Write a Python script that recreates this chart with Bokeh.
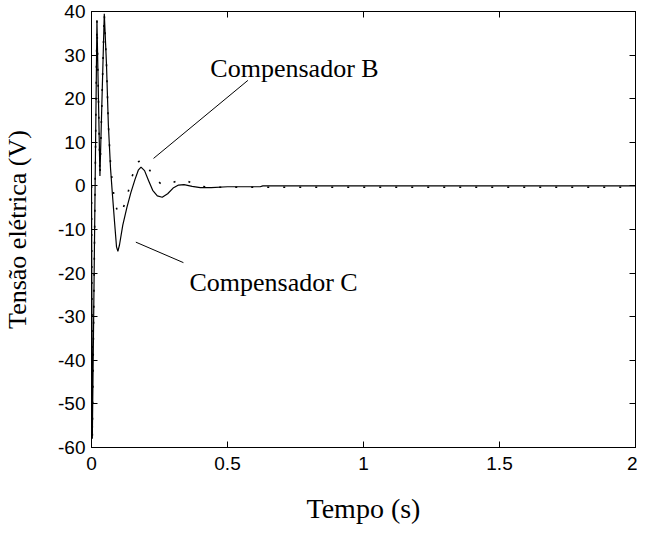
from bokeh.plotting import figure
from bokeh.models import LinearAxis, FixedTicker, Label, Range1d
from bokeh.embed import file_html
from bokeh.resources import INLINE

# ---- data ----
t_c = [0.000, 0.003, 0.020, 0.031, 0.047, 0.055, 0.062, 0.070, 0.077, 0.085,
       0.092, 0.097, 0.103, 0.115, 0.130, 0.145, 0.160, 0.172, 0.182, 0.195,
       0.210, 0.225, 0.242, 0.260, 0.280, 0.300, 0.320, 0.340, 0.370, 0.400,
       0.440, 0.500, 0.620, 0.630, 2.000]
v_c = [0.0, -58.0, 38.0, 2.3, 39.5, 28.0, 14.0, 4.0, -2.0, -8.5,
       -14.0, -15.0, -13.5, -9.0, -5.0, -1.5, 1.5, 3.6, 4.3, 3.5,
       1.2, -1.0, -2.3, -2.6, -1.8, -0.5, 0.2, 0.3, -0.1, -0.4,
       -0.4, -0.2, -0.2, 0.0, 0.0]

t_b = [0.000, 0.003, 0.020, 0.031, 0.047, 0.055, 0.062, 0.070, 0.077, 0.087,
       0.097, 0.107, 0.117, 0.131, 0.147, 0.167, 0.185, 0.204, 0.220, 0.234,
       0.255, 0.276, 0.300, 0.334, 0.360, 0.390, 0.450, 2.000]
v_b = [0.0, -58.0, 38.0, 2.3, 39.5, 28.0, 14.0, 5.0, 0.2, -4.2,
       -6.0, -6.5, -5.0, -2.4, 1.7, 5.5, 5.8, 4.6, 3.0, 1.6,
       0.5, 0.1, 0.8, 1.6, 0.9, -0.1, -0.3, -0.3]

x_ticks = [0, 0.5, 1, 1.5, 2]
x_tick_labels = ["0", "0.5", "1", "1.5", "2"]
y_ticks = [-60, -50, -40, -30, -20, -10, 0, 10, 20, 30, 40]
y_tick_labels = ["-60", "-50", "-40", "-30", "-20", "-10", "0", "10", "20", "30", "40"]

labels_text = ["Compensador B", "Compensador C"]
labels_x = [0.437, 0.360]
labels_y = [26.9, -22.2]
leader_x0 = [0.228, 0.163]
leader_y0 = [6.3, -12.9]
leader_x1 = [0.575, 0.338]
leader_y1 = [24.2, -17.6]

SERIF = "Liberation Serif"
SANS = "Liberation Sans"

p = figure(width=637, height=530, output_backend="svg", toolbar_location=None,
           x_range=Range1d(0, 2), y_range=Range1d(-60, 40),
           min_border_left=89, min_border_right=2, min_border_top=11,
           min_border_bottom=83)
p.grid.visible = False
p.outline_line_color = "black"
p.outline_line_width = 1
p.background_fill_color = "white"
p.border_fill_color = "white"

for ax in (p.xaxis[0], p.yaxis[0]):
    ax.major_tick_in = 6
    ax.major_tick_out = 0
    ax.minor_tick_out = 0
    ax.minor_tick_in = 0
    ax.minor_tick_line_color = None
    ax.axis_line_color = "black"
    ax.major_tick_line_color = "black"
    ax.major_label_text_font = SANS
    ax.major_label_text_font_size = "19px"
    ax.major_label_text_color = "black"
    ax.axis_label_text_font = SERIF
    ax.axis_label_text_font_style = "normal"
    ax.axis_label_text_color = "black"

p.xaxis[0].axis_label_text_font_size = "28px"
p.yaxis[0].axis_label_text_font_size = "26px"
p.xaxis[0].ticker = FixedTicker(ticks=x_ticks)
p.yaxis[0].ticker = FixedTicker(ticks=y_ticks)
p.xaxis[0].major_label_overrides = dict(zip(x_ticks, x_tick_labels))
p.yaxis[0].major_label_overrides = dict(zip(y_ticks, y_tick_labels))
p.xaxis[0].axis_label = "Tempo (s)"
p.yaxis[0].axis_label = "Tensão elétrica (V)"
p.xaxis[0].major_label_standoff = 9
p.xaxis[0].axis_label_standoff = 20
p.yaxis[0].major_label_standoff = 6
p.yaxis[0].axis_label_standoff = 23

# ticks on the top and right sides, with empty labels
top = LinearAxis(ticker=FixedTicker(ticks=x_ticks), major_tick_in=6, major_tick_out=0,
                 minor_tick_in=0, minor_tick_out=0, minor_tick_line_color=None,
                 major_label_overrides={t: "" for t in x_ticks},
                 major_label_text_font_size="1px",
                 major_label_standoff=0, axis_line_color="black")
right = LinearAxis(ticker=FixedTicker(ticks=y_ticks), major_tick_in=6, major_tick_out=0,
                   minor_tick_in=0, minor_tick_out=0, minor_tick_line_color=None,
                   major_label_overrides={t: "" for t in y_ticks},
                   major_label_text_font_size="1px",
                   major_label_standoff=0, axis_line_color="black")
p.add_layout(top, "above")
p.add_layout(right, "right")

p.line(t_c, v_c, line_color="black", line_width=1.2)
p.line(t_b, v_b, line_color="black", line_width=1.6, line_dash="2 14")

p.segment(leader_x0, leader_y0, leader_x1, leader_y1, line_color="black", line_width=1)

for txt, lx, ly in zip(labels_text, labels_x, labels_y):
    p.add_layout(Label(x=lx, y=ly, text=txt, text_font=SERIF, text_font_size="26px",
                       text_color="black", text_baseline="alphabetic", text_align="left"))

open("out.html", "w").write(file_html(p, INLINE))
